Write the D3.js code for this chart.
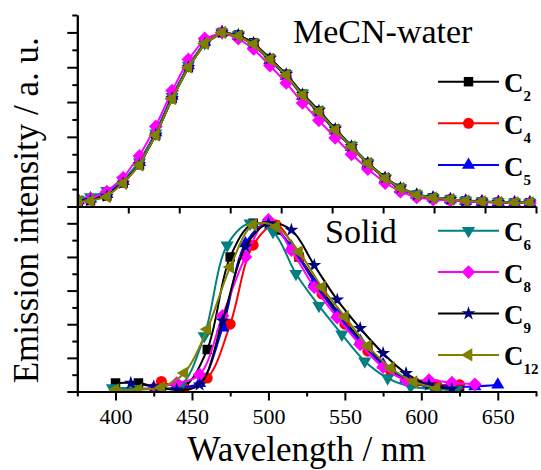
<!DOCTYPE html>
<html>
<head>
<meta charset="utf-8">
<script src="https://cdn.jsdelivr.net/npm/d3@7"></script>
<style>
  body { margin: 0; background: #fff; }
  svg { display: block; }
  text { font-family: "Liberation Serif", "Times New Roman", serif; fill: #000; }
</style>
</head>
<body>
<svg id="chart" width="541" height="470" font-family="Liberation Serif, Times New Roman, serif"></svg>
<script>
// ---- Emission spectra: MeCN-water solution (upper panel) ----
const solutionWavelength = [351, 363, 379, 395, 411, 427, 443, 459, 475, 492, 508, 523, 539, 555, 571, 587, 603, 619, 635, 652, 667, 683, 699, 716, 731, 747, 763, 779, 794];
const solutionC2  = [0.030, 0.035, 0.060, 0.135, 0.240, 0.410, 0.620, 0.800, 0.940, 1.000, 0.985, 0.940, 0.850, 0.760, 0.645, 0.550, 0.445, 0.345, 0.250, 0.165, 0.105, 0.065, 0.050, 0.040, 0.032, 0.028, 0.024, 0.022, 0.022];
const solutionC4  = [0.030, 0.040, 0.065, 0.140, 0.250, 0.420, 0.630, 0.810, 0.940, 1.000, 0.980, 0.930, 0.840, 0.750, 0.635, 0.540, 0.435, 0.340, 0.245, 0.160, 0.100, 0.065, 0.048, 0.040, 0.030, 0.027, 0.024, 0.022, 0.020];
const solutionC5  = [0.035, 0.045, 0.070, 0.145, 0.255, 0.425, 0.635, 0.810, 0.945, 1.000, 0.980, 0.930, 0.840, 0.750, 0.635, 0.540, 0.435, 0.340, 0.245, 0.160, 0.100, 0.066, 0.050, 0.040, 0.032, 0.028, 0.025, 0.022, 0.022];
const solutionC6  = [0.040, 0.055, 0.090, 0.150, 0.255, 0.420, 0.630, 0.810, 0.940, 1.000, 0.985, 0.940, 0.850, 0.760, 0.650, 0.550, 0.445, 0.350, 0.250, 0.165, 0.108, 0.070, 0.052, 0.042, 0.034, 0.030, 0.026, 0.024, 0.022];
const solutionC8  = [0.030, 0.045, 0.085, 0.165, 0.290, 0.460, 0.665, 0.845, 0.965, 1.000, 0.965, 0.905, 0.810, 0.710, 0.595, 0.495, 0.395, 0.300, 0.215, 0.135, 0.085, 0.052, 0.040, 0.034, 0.028, 0.025, 0.022, 0.020, 0.020];
const solutionC9  = [0.030, 0.036, 0.060, 0.135, 0.240, 0.410, 0.620, 0.800, 0.935, 1.000, 0.985, 0.940, 0.850, 0.760, 0.645, 0.550, 0.445, 0.345, 0.250, 0.165, 0.106, 0.067, 0.050, 0.041, 0.032, 0.028, 0.024, 0.022, 0.022];
const solutionC12 = [0.028, 0.032, 0.056, 0.133, 0.238, 0.410, 0.620, 0.800, 0.937, 1.000, 0.980, 0.933, 0.845, 0.755, 0.640, 0.545, 0.440, 0.343, 0.248, 0.162, 0.105, 0.066, 0.050, 0.041, 0.032, 0.028, 0.024, 0.022, 0.022];

// ---- Emission spectra: solid state (lower panel) ----
const solidWavelengthC2  = [400, 415, 430, 445, 460, 475, 490, 505, 520, 535, 550, 565, 580, 595, 610, 625];
const solidC2            = [0.050, 0.050, 0.020, 0.030, 0.250, 0.800, 1.000, 0.960, 0.800, 0.600, 0.420, 0.260, 0.130, 0.050, 0.020, 0.010];
const solidWavelengthC4  = [430, 445, 460, 475, 490, 505, 520, 535, 550, 565, 580, 595, 610, 625];
const solidC4            = [0.060, 0.020, 0.080, 0.400, 0.870, 0.990, 0.800, 0.580, 0.400, 0.240, 0.120, 0.050, 0.040, 0.040];
const solidWavelengthC5  = [440, 455, 470, 485, 500, 515, 530, 545, 560, 575, 590, 605, 620, 635, 650];
const solidC5            = [0.030, 0.050, 0.380, 0.880, 1.000, 0.860, 0.650, 0.460, 0.300, 0.160, 0.075, 0.040, 0.030, 0.030, 0.040];
const solidWavelengthC6  = [398, 413, 428, 443, 458, 473, 488, 503, 518, 533, 548, 563, 578, 593, 608, 623];
const solidC6            = [0.020, 0.020, 0.015, 0.040, 0.330, 0.870, 1.000, 0.950, 0.700, 0.510, 0.340, 0.180, 0.080, 0.030, 0.015, 0.010];
const solidWavelengthC8  = [425, 440, 455, 470, 485, 500, 515, 530, 545, 560, 575, 590, 605, 620, 635];
const solidC8            = [0.020, 0.050, 0.100, 0.450, 0.800, 1.020, 0.840, 0.620, 0.440, 0.280, 0.145, 0.068, 0.068, 0.052, 0.043];
const solidWavelengthC9  = [410, 425, 440, 455, 470, 485, 500, 515, 530, 545, 560, 575, 590, 605, 620];
const solidC9            = [0.050, 0.030, 0.010, 0.040, 0.420, 0.860, 1.000, 0.960, 0.750, 0.545, 0.376, 0.227, 0.108, 0.040, 0.015];
const solidWavelengthC12 = [400, 415, 430, 445, 460, 475, 490, 505, 520, 535, 550, 565, 580, 595, 610];
const solidC12           = [0.010, 0.010, 0.025, 0.110, 0.370, 0.740, 0.990, 0.980, 0.830, 0.620, 0.445, 0.270, 0.140, 0.058, 0.020];

// ---- Axis ticks ----
const solidMajorTicks = [400, 450, 500, 550, 600, 650];
const solidMinorTicks = [375, 425, 475, 525, 575, 625, 675];
const solutionXTicks = [400, 450, 500, 550, 600, 650, 700, 750, 800];
const intensityMajorTicks = [0, 0.2, 0.4, 0.6, 0.8, 1.0];
const intensityMinorTicks = [0.1, 0.3, 0.5, 0.7, 0.9, 1.1];

// ---- Series labels ----
const seriesNames = ["C2", "C4", "C5", "C6", "C8", "C9", "C12"];
const seriesSubscripts = ["2", "4", "5", "6", "8", "9", "12"];

// Series appearance
const lineColor   = { C2: "#000000", C4: "#ff0000", C5: "#0000ff", C6: "#008080", C8: "#ff00ff", C9: "#000000", C12: "#808000" };
const markerColor = { C2: "#000000", C4: "#ff0000", C5: "#0000ff", C6: "#008080", C8: "#ff00ff", C9: "#000080", C12: "#808000" };
const markerShape = {
  C2:  { type: d3.symbolSquare,   size: 90,  rotate: 0 },
  C4:  { type: d3.symbolCircle,   size: 95,  rotate: 0 },
  C5:  { type: d3.symbolTriangle, size: 75,  rotate: 0 },
  C6:  { type: d3.symbolTriangle, size: 75,  rotate: 180 },
  C8:  { type: d3.symbolSquare,   size: 95,  rotate: 45 },
  C9:  { type: d3.symbolStar,     size: 60,  rotate: 0 },
  C12: { type: d3.symbolTriangle, size: 75,  rotate: -90 }
};

const solutionSeries = {
  C2: solutionC2, C4: solutionC4, C5: solutionC5, C6: solutionC6,
  C8: solutionC8, C9: solutionC9, C12: solutionC12
};
const solidSeries = {
  C2:  [solidWavelengthC2,  solidC2],
  C4:  [solidWavelengthC4,  solidC4],
  C5:  [solidWavelengthC5,  solidC5],
  C6:  [solidWavelengthC6,  solidC6],
  C8:  [solidWavelengthC8,  solidC8],
  C9:  [solidWavelengthC9,  solidC9],
  C12: [solidWavelengthC12, solidC12]
};

// ---- Layout ----
const plotLeft = 77.3, plotRight = 536;
const plotTop = 15, plotMid = 206.5, plotBottom = 391.5;

const xSolution = d3.scaleLinear([350, 800], [plotLeft, plotRight]);
const xSolid = d3.scaleLinear([375, 675], [plotLeft, plotRight]);
const ySolution = d3.scaleLinear([0, 1.1], [plotMid, plotTop]);
const ySolid = d3.scaleLinear([0, 1.1], [plotBottom, plotMid]);

const svg = d3.select("#chart");

const defs = svg.append("defs");
defs.append("clipPath").attr("id", "clip-solution")
  .append("rect").attr("x", plotLeft).attr("y", 0).attr("width", plotRight - plotLeft + 5).attr("height", plotMid);
defs.append("clipPath").attr("id", "clip-solid")
  .append("rect").attr("x", plotLeft).attr("y", plotMid).attr("width", plotRight - plotLeft + 5).attr("height", plotBottom - plotMid + 1);

function symbolPath(name) {
  return d3.symbol().type(markerShape[name].type).size(markerShape[name].size)();
}

function drawPanel(g, points, x, y, curve) {
  seriesNames.forEach(name => {
    const pts = points(name);
    const sg = g.append("g").attr("class", "series-" + name);
    sg.append("path")
      .datum(pts)
      .attr("fill", "none")
      .attr("stroke", lineColor[name])
      .attr("stroke-width", 2)
      .attr("stroke-linejoin", "round")
      .attr("d", d3.line().x(d => x(d[0])).y(d => y(d[1])).curve(curve));
    sg.selectAll("path.marker")
      .data(pts)
      .join("path")
      .attr("class", "marker")
      .attr("fill", markerColor[name])
      .attr("d", symbolPath(name))
      .attr("transform", d => `translate(${x(d[0])},${y(d[1])}) rotate(${markerShape[name].rotate})`);
  });
}

// Upper panel: MeCN-water
const gSolution = svg.append("g").attr("clip-path", "url(#clip-solution)");
drawPanel(gSolution,
  name => solutionWavelength.map((w, i) => [w, solutionSeries[name][i]]),
  xSolution, ySolution, d3.curveLinear);

// Lower panel: solid
const gSolid = svg.append("g").attr("clip-path", "url(#clip-solid)");
drawPanel(gSolid,
  name => solidSeries[name][0].map((w, i) => [w, solidSeries[name][1][i]]),
  xSolid, ySolid, d3.curveCatmullRom.alpha(0.5));

// ---- Axes ----
function styleAxis(g) {
  g.attr("font-family", "Liberation Serif, Times New Roman, serif");
  g.select(".domain").attr("stroke", "#000").attr("stroke-width", 2);
  g.selectAll(".tick line").attr("stroke", "#000").attr("stroke-width", 2);
  g.selectAll(".tick text").attr("font-size", 22).attr("fill", "#000");
}

// Bottom wavelength axis (solid panel)
svg.append("g").attr("transform", `translate(0,${plotBottom})`)
  .call(d3.axisBottom(xSolid).tickValues(solidMinorTicks).tickSize(5).tickSizeOuter(0).tickFormat(""))
  .call(styleAxis);
svg.append("g").attr("transform", `translate(0,${plotBottom})`)
  .call(d3.axisBottom(xSolid).tickValues(solidMajorTicks).tickSize(9).tickSizeOuter(0).tickPadding(8).tickFormat(d3.format("d")))
  .call(styleAxis);

// Separator axis with the solution-panel wavelength ticks
svg.append("g").attr("transform", `translate(0,${plotMid})`)
  .call(d3.axisBottom(xSolution).tickValues(solutionXTicks).tickSize(7).tickSizeOuter(0).tickFormat(""))
  .call(styleAxis);

// Intensity axes
[ySolution, ySolid].forEach(ys => {
  svg.append("g").attr("transform", `translate(${plotLeft},0)`)
    .call(d3.axisLeft(ys).tickValues(intensityMinorTicks).tickSize(5).tickSizeOuter(0).tickFormat(""))
    .call(styleAxis);
  svg.append("g").attr("transform", `translate(${plotLeft},0)`)
    .call(d3.axisLeft(ys).tickValues(intensityMajorTicks).tickSize(10).tickSizeOuter(0).tickFormat(""))
    .call(styleAxis);
});

// ---- Titles ----
svg.append("text")
  .attr("x", (plotLeft + plotRight) / 2).attr("y", 461)
  .attr("text-anchor", "middle").attr("font-size", 35)
  .text("Wavelength / nm");

svg.append("text")
  .attr("transform", `translate(38,${(plotTop + plotBottom) / 2 + 7}) rotate(-90)`)
  .attr("text-anchor", "middle").attr("font-size", 35)
  .text("Emission intensity / a. u.");

svg.append("text").attr("x", 293).attr("y", 43).attr("font-size", 34).text("MeCN-water");
svg.append("text").attr("x", 325).attr("y", 243).attr("font-size", 34).text("Solid");

// ---- Legends ----
const legendRows = [
  { name: "C2", y: 81.7 }, { name: "C4", y: 123.3 }, { name: "C5", y: 165 },
  { name: "C6", y: 230.7 }, { name: "C8", y: 272.1 }, { name: "C9", y: 313.5 }, { name: "C12", y: 354.9 }
];
const legend = svg.append("g");
legendRows.forEach(row => {
  const g = legend.append("g");
  g.append("line")
    .attr("x1", 438).attr("x2", 499).attr("y1", row.y).attr("y2", row.y)
    .attr("stroke", lineColor[row.name]).attr("stroke-width", 2);
  g.append("path")
    .attr("d", symbolPath(row.name))
    .attr("fill", markerColor[row.name])
    .attr("transform", `translate(468.5,${row.y}) rotate(${markerShape[row.name].rotate})`);
  const t = g.append("text").attr("x", 504).attr("y", row.y + 10.5).attr("font-weight", "bold");
  t.append("tspan").attr("font-size", 27).text("C");
  t.append("tspan").attr("font-size", 15).attr("dy", 9)
    .text(seriesSubscripts[seriesNames.indexOf(row.name)]);
});
</script>
</body>
</html>
